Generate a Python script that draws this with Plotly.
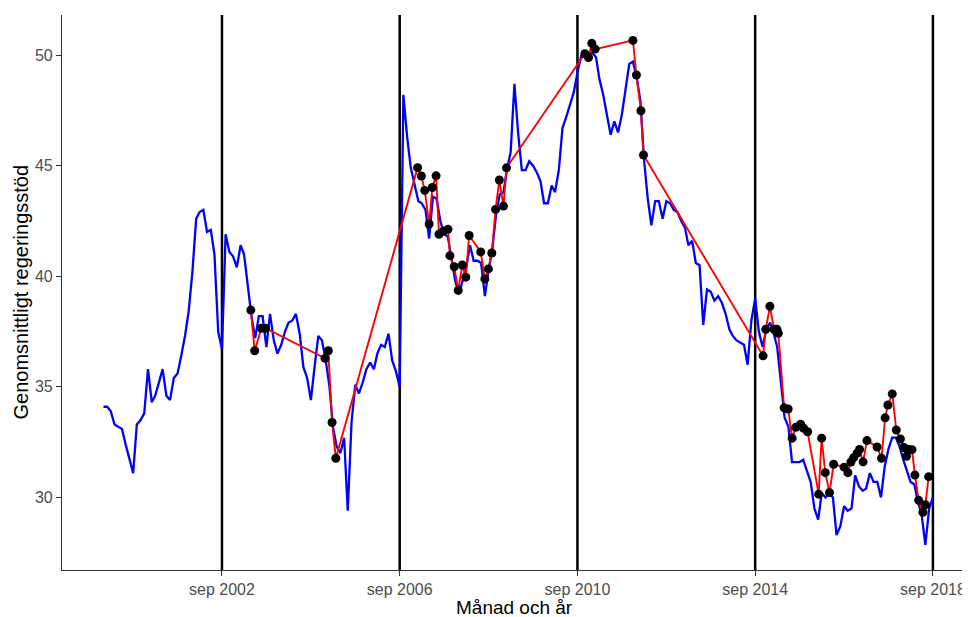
import plotly.graph_objects as go
import pandas as pd

# Monthly average government support (blue line), Jan 2000 - Sep 2018
blue_start = "2000-01-01"
blue_values = [
    34.1, 34.1, 33.9, 33.3, 33.2, 33.1, 32.4, 31.8, 31.1, 33.3, 33.5, 33.8,   # 2000
    35.8, 34.3, 34.6, 35.2, 35.8, 34.6, 34.4, 35.4, 35.6, 36.4, 37.3, 38.4,   # 2001
    40.2, 42.6, 42.9, 43.0, 42.0, 42.1, 41.0, 37.5, 36.7, 41.9, 41.1, 40.9,   # 2002
    40.4, 41.4, 41.0, 39.6, 38.2, 37.2, 38.2, 38.2, 36.8, 38.3, 37.1, 36.5,   # 2003
    36.9, 37.5, 37.9, 38.0, 38.3, 37.4, 35.9, 35.4, 34.4, 35.9, 37.3, 37.1,   # 2004
    36.2, 35.0, 33.2, 32.3, 32.0, 32.7, 29.4, 33.4, 35.1, 34.7, 35.2, 35.8,   # 2005
    36.1, 35.8, 36.5, 36.9, 36.8, 37.4, 36.2, 35.7, 35.0, 48.2, 46.3, 44.9,   # 2006
    44.2, 43.4, 43.3, 43.0, 41.7, 43.6, 43.5, 42.5, 41.9, 41.8, 40.8, 39.8,   # 2007
    39.2, 39.8, 40.4, 41.4, 40.7, 40.7, 40.6, 39.1, 40.3, 41.2, 42.8, 43.7,   # 2008
    43.8, 44.9, 45.6, 48.7, 46.5, 44.8, 44.8, 45.2, 45.0, 44.7, 44.3, 43.3,   # 2009
    43.3, 44.1, 43.8, 44.8, 46.7, 47.2, 47.7, 48.3, 49.2, 49.95, 50.05, 50.1, # 2010
    50.1, 49.9, 48.9, 48.2, 47.3, 46.4, 47.0, 46.5, 47.3, 48.4, 49.6, 49.7,   # 2011
    49.0, 47.9, 45.3, 43.5, 42.3, 43.4, 43.4, 42.6, 43.4, 43.3, 43.0, 42.9,   # 2012
    42.5, 42.2, 41.4, 41.6, 40.6, 40.5, 37.8, 39.4, 39.3, 38.9, 39.1, 38.8,   # 2013
    38.3, 37.6, 37.3, 37.1, 37.0, 36.9, 36.0, 38.0, 39.0, 37.5, 36.8, 37.6,   # 2014
    37.9, 37.4, 36.8, 35.3, 33.6, 33.2, 31.6, 31.6, 31.6, 31.7, 31.2, 30.7,   # 2015
    29.5, 29.0, 30.2, 30.0, 30.2, 30.0, 28.3, 28.7, 29.6, 29.4, 29.5, 31.0,   # 2016
    30.5, 30.3, 30.4, 31.1, 30.7, 30.7, 30.0, 31.4, 32.2, 32.7, 32.7, 32.3,   # 2017
    31.7, 31.2, 30.7, 30.6, 29.8, 29.2, 27.85, 29.5, 30.0,                    # 2018
]
blue_dates = pd.date_range(blue_start, periods=len(blue_values), freq="MS")

# Individual polls (red line with black points)
poll_dates = [
    "2003-04-26", "2003-05-28", "2003-07-22", "2003-08-25",
    "2004-12-26", "2005-01-22", "2005-02-22", "2005-03-25",
    "2007-01-26", "2007-02-26", "2007-03-26", "2007-05-01", "2007-05-27",
    "2007-06-27", "2007-07-21", "2007-08-25", "2007-10-03", "2007-10-19",
    "2007-11-23", "2007-12-26", "2008-01-28", "2008-02-26", "2008-03-25",
    "2008-06-28", "2008-08-01", "2008-08-30", "2008-09-27", "2008-10-28",
    "2008-11-28", "2009-01-01", "2009-01-26",
    "2010-11-01", "2010-12-01", "2010-12-28", "2011-01-25",
    "2011-12-01", "2011-12-30", "2012-02-05", "2012-02-26",
    "2014-11-05", "2014-11-27", "2014-12-31", "2015-02-03", "2015-02-27",
    "2015-03-10", "2015-04-27", "2015-05-30", "2015-07-02", "2015-08-01",
    "2015-09-10", "2015-10-04", "2015-11-06", "2016-02-05", "2016-02-29",
    "2016-03-30", "2016-05-04", "2016-06-07", "2016-09-01", "2016-10-02",
    "2016-10-27", "2016-11-19", "2016-12-17", "2017-01-06", "2017-02-04",
    "2017-03-08", "2017-05-30", "2017-07-06", "2017-08-04", "2017-08-27",
    "2017-10-02", "2017-11-04", "2017-12-08", "2018-01-05", "2018-01-27",
    "2018-02-15", "2018-03-13", "2018-04-06", "2018-05-07", "2018-06-11",
    "2018-07-01", "2018-07-28",
]
poll_values = [
    38.47, 36.63, 37.65, 37.65,
    36.29, 36.63, 33.39, 31.77,
    44.91, 44.53, 43.88, 42.36, 44.01,
    44.54, 41.90, 42.04, 42.12, 40.93,
    40.43, 39.36, 40.51, 39.96, 41.84,
    41.10, 39.88, 40.33, 41.05, 43.02,
    44.35, 43.17, 44.90,
    50.06, 49.89, 50.53, 50.27,
    50.66, 49.10, 47.48, 45.48,
    36.40, 37.60, 38.64, 37.60, 37.60,
    37.42, 34.05, 34.00, 32.68, 33.17,
    33.31, 33.13, 32.97, 30.15, 32.68,
    31.12, 30.22, 31.50, 31.37, 31.12,
    31.60, 31.80, 32.00, 32.17, 31.61,
    32.57, 32.28, 31.77, 33.60, 34.18,
    34.68, 33.05, 32.64, 32.26, 31.86,
    32.17, 32.16, 31.01, 29.87, 29.33,
    29.67, 30.94,
]

election_dates = ["2002-09-01", "2006-09-01", "2010-09-01", "2014-09-01", "2018-09-01"]
election_labels = ["sep 2002", "sep 2006", "sep 2010", "sep 2014", "sep 2018"]
y_ticks = [30, 35, 40, 45, 50]
x_title = "Månad och år"
y_title = "Genomsnittligt regeringsstöd"

fig = go.Figure()
fig.add_trace(go.Scatter(x=blue_dates, y=blue_values, mode="lines",
                         line=dict(color="#0000FF", width=2.3), hoverinfo="skip"))
fig.add_trace(go.Scatter(x=pd.to_datetime(poll_dates), y=poll_values, mode="lines",
                         line=dict(color="#FF0000", width=1.9), hoverinfo="skip"))
fig.add_trace(go.Scatter(x=pd.to_datetime(poll_dates), y=poll_values, mode="markers",
                         marker=dict(color="black", size=9)))

for d in election_dates:
    fig.add_shape(type="line", xref="x", yref="paper", x0=d, x1=d, y0=0, y1=1,
                  line=dict(color="black", width=2.5), layer="below")

# The page body adds an 8px offset, so the figure is sized to fill the rest of the window
fig.update_layout(
    width=962, height=609,
    margin=dict(l=54, r=4, t=7, b=47, autoexpand=False),
    plot_bgcolor="white", paper_bgcolor="white",
    showlegend=False,
    font=dict(family="Liberation Sans, Arial, sans-serif"),
    annotations=[
        dict(text=x_title, xref="paper", yref="paper", x=0.5, y=0, yshift=-37,
             xanchor="center", yanchor="middle", showarrow=False,
             font=dict(size=19, color="black")),
        dict(text=y_title, xref="paper", yref="paper", x=0, y=0.5, xshift=-42,
             xanchor="center", yanchor="middle", textangle=-90, showarrow=False,
             font=dict(size=20, color="black")),
    ],
)
fig.update_xaxes(
    type="date", range=["1999-01-25", "2019-05-31"], automargin=False,
    tickmode="array", tickvals=election_dates, ticktext=election_labels,
    showline=True, linecolor="#333333", linewidth=1.2,
    ticks="outside", ticklen=5, tickwidth=1.2, tickcolor="#333333",
    tickfont=dict(size=16, color="#4D4D4D"),
    showgrid=False, zeroline=False,
)
fig.update_yaxes(
    range=[26.72, 51.81], automargin=False,
    tickmode="array", tickvals=y_ticks,
    showline=True, linecolor="#333333", linewidth=1.2,
    ticks="outside", ticklen=5, tickwidth=1.2, tickcolor="#333333",
    tickfont=dict(size=16, color="#4D4D4D"),
    showgrid=False, zeroline=False,
)

fig.write_html("out.html")
